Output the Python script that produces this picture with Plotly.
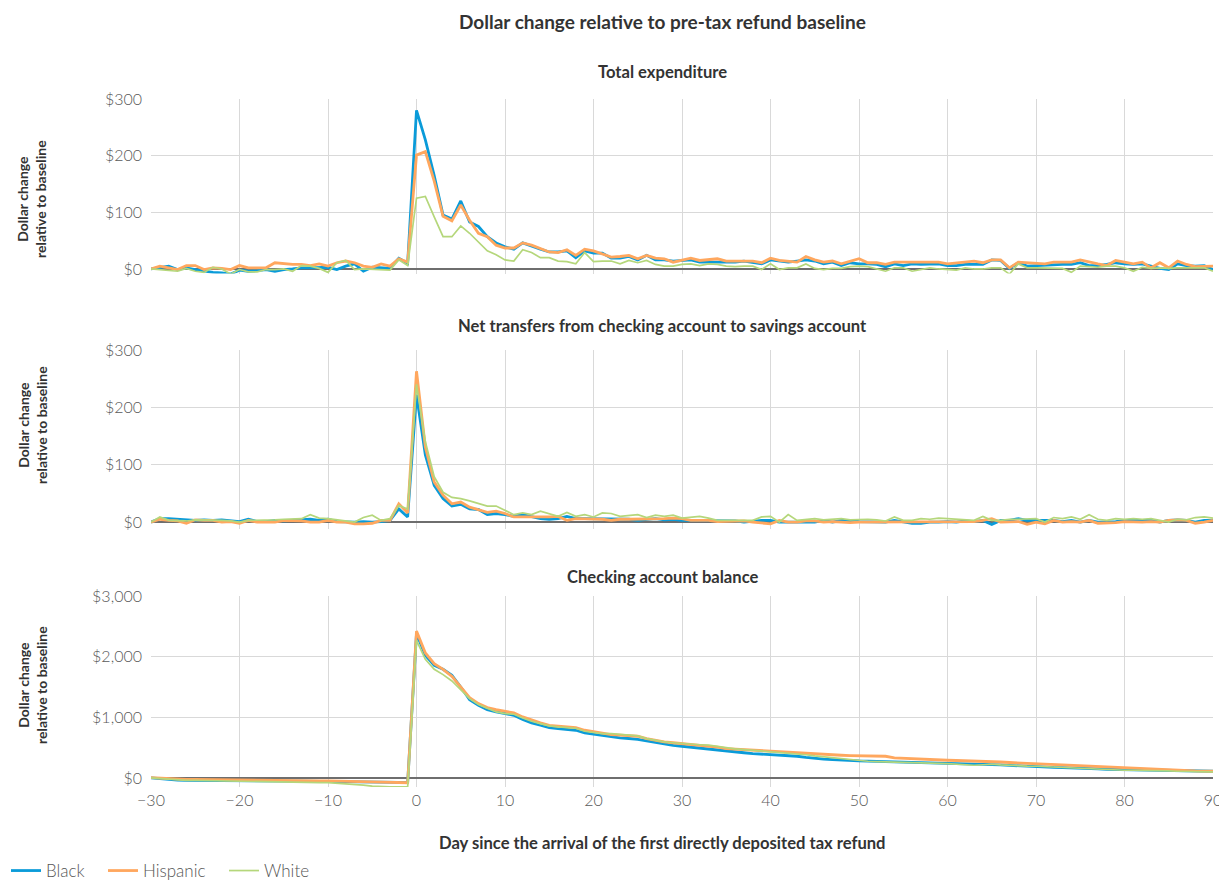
import plotly.graph_objects as go

days = list(range(-30, 91))
series_names = ["Black", "Hispanic", "White"]

# ---- Total expenditure (dollar change) ----
te_black = [0, 3, 5, -1, 2, -1, -4, -6, -7, -9, -2, -4, -3, -1, -4, -1, 0, 2, 2, 2, 3, -1, 5, 9, -4, 3, 2, 1, 19, 10,
            280, 228, 165, 95, 88, 120, 83, 75, 57, 46,
            39, 35, 46, 40, 35, 30, 30, 32, 20, 32,
            28, 28, 19, 19, 22, 16, 24, 16, 16, 14,
            15, 16, 12, 12, 12, 11, 12, 14, 12, 9,
            16, 14, 12, 14, 16, 14, 9, 12, 6, 11,
            9, 9, 8, 4, 9, 6, 9, 8, 9, 9,
            6, 6, 8, 8, 8, 16, 15, 1, 11, 5,
            6, 6, 8, 8, 8, 11, 6, 6, 8, 11,
            9, 8, 9, 5, 1, -1, 9, 6, 5, 6,
            -1]
te_hispanic = [0, 5, 2, -1, 6, 6, -1, 2, 1, -1, 6, 2, 2, 2, 11, 9, 8, 8, 6, 9, 5, 11, 14, 11, 5, 3, 9, 5, 18, 12,
               201, 207, 155, 93, 85, 113, 86, 63, 57, 42,
               37, 37, 46, 42, 36, 30, 29, 34, 24, 35,
               32, 27, 21, 22, 24, 18, 24, 19, 18, 12,
               16, 19, 15, 16, 18, 14, 14, 15, 14, 11,
               19, 15, 14, 12, 22, 16, 12, 14, 9, 14,
               18, 11, 11, 8, 12, 12, 12, 12, 12, 12,
               9, 11, 12, 14, 11, 16, 16, 2, 12, 11,
               9, 9, 12, 12, 12, 16, 12, 9, 6, 15,
               12, 9, 12, 2, 11, 2, 14, 8, 4, 5,
               5]
te_white = [0, -1, -2, -4, 1, -4, -6, 3, 0, -9, -1, -5, -5, -1, -1, 0, -4, 6, 5, 1, -6, 11, 15, -1, 0, -1, -1, -2, 16, 6,
            125, 128, 92, 57, 57, 76, 63, 48, 32, 25,
            16, 14, 34, 29, 20, 20, 14, 13, 9, 29,
            13, 14, 14, 9, 15, 11, 15, 8, 5, 5,
            8, 9, 6, 9, 8, 5, 4, 5, 5, -1,
            9, -1, 2, 2, 9, 1, -1, 1, 1, 4,
            5, 4, 0, -4, 2, 2, -4, -1, 2, 0,
            -1, -2, 2, 0, 0, 2, 2, -9, 9, 2,
            2, 2, 2, 1, -6, 5, 4, 3, 5, 5,
            2, -4, 3, 1, 2, 1, 2, 2, 2, 2,
            -4]

# ---- Net transfers from checking to savings ----
nt_black = [0, 6, 6, 5, 3, 3, 4, 3, 4, 3, 1, 5, 1, 1, 3, 2, 3, 4, 5, 3, 5, 1, 0, 0, 1, 0, 1, 3, 23, 9,
            222, 117, 64, 41, 28, 31, 23, 22, 13, 15,
            13, 10, 13, 10, 6, 5, 6, 10, 6, 6,
            6, 6, 5, 6, 5, 3, 5, 6, 4, 5,
            3, 3, 3, 3, 3, 3, 2, 0, 2, 3,
            3, 0, 0, 0, 1, 0, 3, 0, 3, 3,
            1, 1, 0, 0, 3, 0, -2, -2, 0, 0,
            1, 0, 2, 1, 3, -4, 3, 3, 6, 3,
            3, 3, 3, 1, 3, 0, 3, 0, 0, 1,
            3, 3, 3, 3, 0, 3, 4, 3, 0, 3,
            3]
nt_hispanic = [0, 5, 3, 2, -2, 4, 3, 3, 0, 1, -2, 3, 0, 0, 0, 3, 3, 2, 0, 0, 3, 0, 0, -3, -3, -2, 3, 3, 32, 16,
               263, 131, 70, 47, 32, 35, 26, 22, 17, 19,
               15, 9, 9, 9, 8, 9, 10, 3, 6, 6,
               6, 5, 3, 5, 5, 5, 6, 6, 6, 7,
               6, 3, 3, 3, 1, 1, 2, 2, 0, -2,
               -3, 3, 0, 0, 2, 2, 0, 1, 0, -1,
               0, 0, 0, 0, 0, 0, 0, 0, 0, 1,
               0, 0, 0, 1, 3, 6, 0, 0, 1, -4,
               0, -3, 3, 0, 1, 0, 3, -2, -2, -1,
               1, 0, 0, 1, 0, 3, 4, 3, -2, 0,
               3]
nt_white = [0, 9, 3, 2, 2, 4, 4, 3, 3, 2, 0, 3, 3, 4, 4, 5, 6, 6, 13, 7, 6, 4, 3, 0, 8, 12, 3, 6, 29, 23,
            240, 140, 79, 52, 43, 41, 37, 32, 28, 28,
            20, 13, 16, 13, 19, 15, 10, 17, 10, 13,
            9, 16, 15, 10, 12, 13, 8, 12, 10, 12,
            7, 9, 10, 7, 3, 3, 3, 3, 3, 9,
            10, 0, 13, 3, 5, 6, 4, 5, 6, 4,
            5, 5, 4, 2, 9, 3, 3, 6, 5, 7,
            6, 5, 4, 3, 10, 3, 3, 5, 5, 5,
            6, 0, 8, 6, 9, 5, 13, 5, 3, 6,
            5, 6, 5, 6, 3, 0, 5, 4, 8, 9,
            7]

# ---- Checking account balance ----
cb_black = [0, -15, -28, -38, -40, -42, -44, -45, -46, -48, -50, -50, -50, -50, -50, -50, -52, -53, -54, -55,
            -55, -57, -58, -60, -62, -65, -68, -70, -73, -77,
            2379, 2022, 1857, 1791, 1692, 1500, 1291, 1198, 1126, 1088,
            1061, 1033, 962, 907, 868, 830, 813, 802, 786, 742,
            720, 692, 676, 660, 650, 637, 610, 582, 555, 538,
            522, 505, 490, 473, 460, 445, 430, 415, 401, 393,
            385, 376, 366, 357, 338, 319, 310, 300, 291, 285,
            280, 278, 277, 275, 264, 260, 257, 253, 247, 241,
            236, 232, 228, 225, 225, 225, 215, 206, 198, 190,
            181, 177, 173, 170, 167, 165, 158, 150, 143, 140,
            137, 132, 128, 126, 120, 115, 113, 111, 110, 110,
            110]
cb_hispanic = [5, -5, -15, -22, -24, -25, -26, -26, -27, -27, -27, -30, -32, -35, -37, -38, -40, -42, -45, -48,
               -50, -53, -55, -58, -60, -65, -70, -73, -76, -80,
               2423, 2061, 1885, 1791, 1676, 1500, 1324, 1225, 1159, 1126,
               1104, 1072, 1006, 951, 907, 868, 852, 841, 830, 786,
               758, 731, 714, 705, 697, 687, 648, 620, 593, 580,
               566, 553, 540, 528, 506, 484, 475, 466, 456, 448,
               440, 430, 421, 412, 401, 390, 385, 380, 374, 368,
               363, 361, 359, 357, 330, 322, 315, 308, 302, 296,
               291, 287, 284, 280, 275, 269, 262, 254, 247, 241,
               236, 230, 225, 220, 215, 209, 200, 190, 181, 173,
               165, 158, 150, 143, 135, 126, 122, 118, 115, 112,
               110]
cb_white = [0, -10, -25, -35, -40, -42, -45, -47, -48, -50, -50, -55, -60, -65, -70, -77, -76, -77, -77, -77,
            -77, -85, -95, -105, -120, -137, -148, -148, -148, -148,
            2269, 1956, 1791, 1703, 1599, 1456, 1308, 1209, 1143, 1088,
            1061, 1050, 989, 934, 896, 857, 841, 830, 819, 769,
            747, 731, 731, 715, 705, 692, 648, 620, 593, 580,
            566, 555, 547, 539, 517, 495, 480, 468, 456, 442,
            429, 420, 410, 401, 382, 363, 348, 333, 319, 300,
            280, 275, 270, 264, 264, 258, 252, 247, 242, 239,
            236, 225, 215, 209, 217, 225, 215, 206, 198, 195,
            192, 185, 177, 170, 162, 154, 148, 142, 137, 131,
            126, 126, 126, 126, 120, 115, 110, 105, 99, 99,
            99]

# ---- tick labels ----
x_tickvals = list(range(-30, 91, 10))
x_ticktext = ["\u221230", "\u221220", "\u221210", "0", "10", "20", "30", "40", "50", "60", "70", "80", "90"]
y_tickvals_small = [0, 100, 200, 300]
y_ticktext_small = ["$0", "$100", "$200", "$300"]
y_tickvals_big = [0, 1000, 2000, 3000]
y_ticktext_big = ["$0", "$1,000", "$2,000", "$3,000"]

panel_titles = ["Total expenditure",
                "Net transfers from checking account to savings account",
                "Checking account balance"]
main_title = "Dollar change relative to pre-tax refund baseline"
x_title = "Day since the arrival of the first directly deposited tax refund"
y_title = "Dollar change<br>relative to baseline"

for arr in [te_black, te_hispanic, te_white, nt_black, nt_hispanic, nt_white, cb_black, cb_hispanic, cb_white]:
    assert len(arr) == len(days), len(arr)

# ---- styling ----
W, H = 1227, 881
OFF = 8  # page body margin offset
L = 151 - OFF
R = W - (1213 - OFF)
FONT = "Lato"
colors = ["#0A9BD9", "#FFA75E", "#B5D77B"]
widths = [2.8, 2.8, 1.7]
grid = "#D9D9D9"
tick_col = "#595959"
title_col = "#333333"


def fy(py):
    return 1 - (py - OFF) / H


def fx(px):
    return (px - OFF - L) / (W - L - R)


legend_ids = ["legend", "legend2", "legend3"]
legend_x = [6, 103, 224]

fig = go.Figure()
data_sets = [(te_black, te_hispanic, te_white), (nt_black, nt_hispanic, nt_white), (cb_black, cb_hispanic, cb_white)]
for p, sets in enumerate(data_sets):
    sfx = "" if p == 0 else str(p + 1)
    for i, vals in enumerate(sets):
        fig.add_trace(go.Scatter(
            x=days, y=vals, mode="lines", name=series_names[i],
            line=dict(color=colors[i], width=widths[i]),
            xaxis="x" + sfx, yaxis="y" + sfx,
            showlegend=(p == 0), legendgroup=series_names[i], legend=legend_ids[i],
        ))

domains = [(273.5, 99), (529, 350), (787, 596)]
ranges = [[-8, 300], [-12, 300], [-150, 3000]]
tickfont = dict(family=FONT, size=16, color=tick_col, weight=300)
for p in range(3):
    sfx = "" if p == 0 else str(p + 1)
    big = p == 2
    fig.update_layout(**{
        "xaxis" + sfx: dict(
            domain=[0, 1], range=[-30, 90], anchor="y" + sfx,
            tickvals=x_tickvals, ticktext=x_ticktext,
            showticklabels=(p == 2), showgrid=True, gridcolor=grid, gridwidth=1,
            zeroline=False, showline=False, ticks="",
            tickfont=tickfont, ticklabelstandoff=2,
        ),
        "yaxis" + sfx: dict(
            domain=[fy(domains[p][0]), fy(domains[p][1])], range=ranges[p], anchor="x" + sfx,
            tickvals=y_tickvals_big if big else y_tickvals_small,
            ticktext=y_ticktext_big if big else y_ticktext_small,
            showgrid=True, gridcolor=grid, gridwidth=1,
            zeroline=True, zerolinecolor="#6E6E6E", zerolinewidth=1.5,
            showline=False, ticks="", ticklabelstandoff=8,
            tickfont=tickfont,
        ),
    })

ann = []
cx = fx(662)
ann.append(dict(text="<b>" + main_title + "</b>", x=cx, y=fy(22), xref="paper", yref="paper",
                showarrow=False, font=dict(family=FONT, size=19, color=title_col), xanchor="center", yanchor="middle"))
for t, py in zip(panel_titles, [72, 326, 577]):
    ann.append(dict(text="<b>" + t + "</b>", x=cx, y=fy(py), xref="paper", yref="paper",
                    showarrow=False, font=dict(family=FONT, size=16.6, color=title_col), xanchor="center", yanchor="middle"))
ann.append(dict(text="<b>" + x_title + "</b>", x=cx, y=fy(843), xref="paper", yref="paper",
                showarrow=False, font=dict(family=FONT, size=16.6, color=title_col), xanchor="center", yanchor="middle"))
for py in [199, 425, 685]:
    ann.append(dict(text="<b>" + y_title + "</b>", x=fx(32), y=fy(py), xref="paper", yref="paper",
                    showarrow=False, textangle=-90, font=dict(family=FONT, size=14, color=title_col),
                    xanchor="center", yanchor="middle"))

legend_common = dict(orientation="h", xref="paper", yref="paper", xanchor="left", yanchor="middle",
                     font=dict(family=FONT, size=17, color="#555555", weight=300),
                     bgcolor="rgba(0,0,0,0)", itemwidth=30)
legend_layout = {}
for lid, lx in zip(legend_ids, legend_x):
    legend_layout[lid] = dict(legend_common, x=fx(lx), y=fy(871))

fig.update_layout(
    width=W, height=H,
    margin=dict(l=L, r=R, t=0, b=0, autoexpand=False),
    paper_bgcolor="white", plot_bgcolor="white",
    font=dict(family=FONT, color=tick_col),
    annotations=ann,
    hovermode=False,
    **legend_layout,
)

fig.write_html("out.html")
